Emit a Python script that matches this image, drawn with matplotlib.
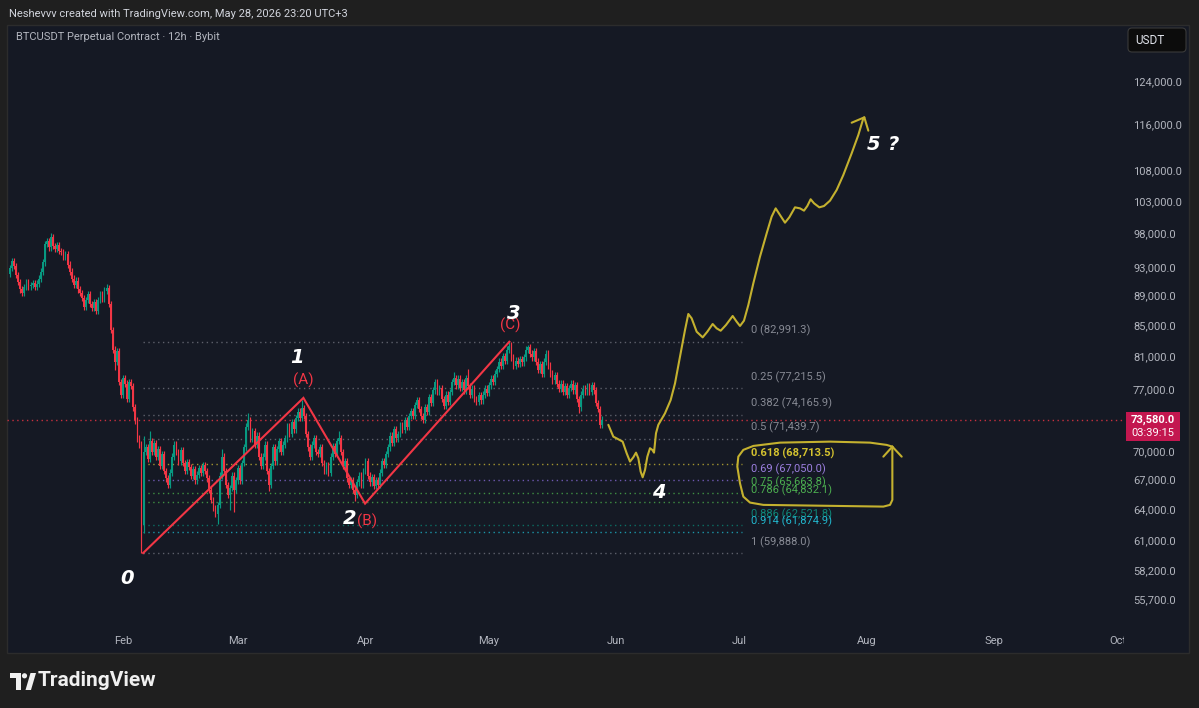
import numpy as np
import matplotlib
matplotlib.use("Agg")
import matplotlib.pyplot as plt
from matplotlib.patches import Rectangle, FancyBboxPatch, Circle, Polygon
import matplotlib.transforms as mtransforms

W, H, DPI = 1199, 708, 100

# ------------------------------------------------------------------ data
first_day = 3.5          # day-of-year 2026 of first 12h candle
candle_step = 0.5        # 12h
first_open_k = 92.2
closes_k = [
    93.0, 94.0, 93.3, 92.0, 91.0, 90.0, 89.5, 90.3, 91.0, 90.4, 90.6, 90.9, 90.3, 90.8, 91.5,
    92.5, 93.8, 96.5, 97.0, 96.0, 97.5, 96.2, 95.8, 96.3, 95.5,
    95.3, 94.7, 95.0, 93.5, 92.5, 91.5, 90.6, 91.2, 90.0, 89.5,
    88.8, 87.6, 88.5, 89.3, 88.0, 87.5, 88.2, 87.0, 88.5, 89.3, 88.7, 89.8, 90.2, 88.0,
    84.5, 82.0, 80.5, 81.8, 78.0, 76.5, 78.5, 77.8, 76.0, 78.0, 77.5, 75.0, 73.5, 71.5, 70.8,
    62.5, 70.0,
    70.5, 69.3, 71.2, 70.0, 71.0, 69.5, 70.3, 68.5, 69.8, 68.0, 67.2, 66.5, 67.8, 69.5, 70.8, 70.0, 69.0, 70.2, 68.8, 68.0, 68.9,
    68.4, 67.5, 68.2, 67.0, 67.6, 68.3, 67.8, 68.6, 68.0, 67.2, 66.0, 65.0, 64.2, 63.6, 64.5,
    67.5, 69.5, 68.0, 66.5, 65.5, 66.2, 67.5, 66.0, 67.0, 68.3, 67.0, 68.8, 70.5, 72.8, 73.5, 71.5, 72.3, 70.8, 71.8, 69.5, 68.5,
    69.5, 70.8, 68.0, 66.5, 68.5, 70.5, 69.0, 70.3, 71.2, 70.0, 70.8, 71.5, 72.8, 72.0, 73.3, 72.5, 73.8, 74.5, 73.8, 74.9, 74.0,
    72.0, 70.5, 69.5, 70.8, 71.5, 70.0, 69.8, 70.5, 68.8, 68.0, 68.6, 67.8, 69.5, 70.6, 69.8, 71.2, 71.5, 70.0, 68.5, 69.0,
    67.2, 66.5, 67.0, 66.0, 65.5, 66.8, 67.5, 66.5, 68.0, 69.0,
    67.5, 66.8, 67.3, 66.4, 67.0, 66.5, 67.8, 69.0, 68.6, 69.8, 70.5, 71.8, 71.0, 72.5, 71.5, 72.0, 73.0, 72.4, 73.5, 72.8,
    74.0, 74.6, 74.0, 75.3, 75.8, 74.8,
    74.0, 73.6, 75.0, 74.5, 76.2, 75.5, 77.0, 78.0, 76.8, 77.3, 76.0, 75.2, 76.5, 75.6, 76.8, 78.0, 78.5, 77.6, 78.4, 77.3,
    78.0, 77.0, 78.5, 77.5, 76.5, 77.2, 76.0, 75.6, 76.4, 75.8, 76.5, 77.2, 76.7, 77.6, 78.4, 78.0, 79.0, 79.6, 80.5, 80.0,
    81.2, 80.6, 82.0, 82.5,
    81.0, 80.0, 80.6, 80.2, 80.8, 80.4, 81.0, 82.0, 82.3, 81.5, 81.0, 81.8, 80.5, 79.5, 80.2, 79.0, 80.5, 81.5, 80.0, 79.0,
    78.2, 78.8, 77.8, 77.2, 77.8, 76.8, 77.5, 76.5, 77.3, 77.8, 77.0, 77.6, 76.0, 75.0, 76.5, 77.2, 76.8, 77.5, 76.8, 77.6,
    77.0, 75.5, 74.8, 73.0, 73.58,
]
high_override_k = {20: 98.2, 47: 90.8, 65: 71.8, 68: 72.3, 103: 70.3, 116: 74.3, 142: 75.9,
                   160: 72.3, 207: 78.4, 216: 79.2, 223: 79.6, 243: 82.99, 252: 82.6, 261: 82.0}
low_override_k = {51: 79.5, 64: 59.888, 65: 61.8, 101: 62.6, 107: 64.0, 109: 63.8,
                  126: 65.9, 168: 64.9, 277: 74.3}
wick_pad = 0.005

last_price = 73580.0
last_price_text = "73,580.0"
countdown_text = "03:39:15"

month_names = ["Feb", "Mar", "Apr", "May", "Jun", "Jul", "Aug", "Sep", "Oct"]
month_days = [31, 59, 90, 120, 151, 181, 212, 243, 273]

price_ticks = [124000, 116000, 108000, 103000, 98000, 93000, 89000, 85000, 81000,
               77000, 70000, 67000, 64000, 61000, 58200, 55700]

fib_names = ["0", "0.25", "0.382", "0.5", "0.618", "0.69", "0.75", "0.786", "0.886", "0.914", "1"]
fib_prices = [82991.3, 77215.5, 74165.9, 71439.7, 68713.5, 67050.0, 65663.8, 64832.1,
              62521.8, 61874.9, 59888.0]
fib_start_day, fib_end_day, fib_label_day = 35.9, 181.6, 183.8

wave_days = [35.9, 74.9, 89.9, 125.0]
wave_prices = [59888.0, 76100.0, 64640.0, 82991.3]

wave_numbers = [("0", 32.0, 57620), ("1", 73.3, 80960), ("2", 86.2, 63160),
                ("3", 126.1, 86630), ("4", 161.4, 65750), ("5", 213.6, 112620), ("?", 218.6, 112620)]
wave_letters = [("(A)", 74.8, 78140), ("(B)", 90.4, 62870), ("(C)", 125.2, 85170)]

proj_days = [149.09, 150.30, 151.52, 152.57, 153.55, 154.36, 155.17, 155.82, 156.39, 156.95, 157.44,
             158.01, 158.58, 159.22, 159.79, 160.20, 160.68, 161.25, 162.87, 164.25, 165.31, 166.52,
             167.74, 168.55, 169.36, 170.58, 172.04, 173.17, 174.47, 175.44, 176.42, 177.71, 179.34,
             180.31, 181.12, 182.09, 183.15, 184.36, 185.98, 187.61, 188.82, 189.80, 190.85, 192.07,
             193.12, 194.50, 195.72, 196.69, 197.50, 198.31, 199.13, 200.42, 201.56, 203.02, 204.64,
             206.26, 208.29, 209.91, 211.13, 211.37]
proj_prices_k = [73.0, 71.68, 71.39, 71.13, 69.86, 68.97, 69.43, 69.93, 69.32, 67.91, 67.32,
                 68.09, 69.50, 70.41, 70.23, 69.93, 72.05, 73.0, 74.31, 75.85, 77.83, 81.10,
                 84.51, 86.63, 86.05, 84.29, 83.56, 84.29, 85.30, 84.73, 84.42, 85.17, 86.36,
                 85.60, 85.04, 85.74, 87.84, 90.82, 94.64, 98.12, 100.68, 101.98, 100.94, 99.75,
                 100.58, 102.14, 101.98, 101.62, 102.35, 103.42, 102.78, 102.14, 102.35, 103.20, 104.92,
                 107.37, 111.03, 114.21, 117.19, 117.37]
proj_head_days = [208.29, 211.37, 212.34]
proj_head_k = [116.40, 117.37, 114.98]

loop_days = [218.19, 216.81, 212.75, 203.02, 190.85, 184.37, 181.93, 180.71, 180.47, 181.12,
             181.93, 183.56, 186.80, 216.00, 217.62, 218.19, 218.19]
loop_k = [70.58, 70.77, 71.02, 71.13, 71.02, 70.66, 70.23, 69.50, 68.44, 66.70,
          65.34, 64.74, 64.51, 64.34, 64.51, 65.01, 70.58]
loop_head_days = [216.00, 218.19, 220.46]
loop_head_k = [69.50, 70.58, 69.50]

# ------------------------------------------------------------------ style
FRAME = "#1f1f1f"
PANEL = "#151924"
TXT = "#b2b5be"
UP, DN = "#089981", "#f23645"
YEL = "#c4b12f"
SMALL = ["Roboto", "DejaVu Sans"]

fib_line_cols = ["#5d606b", "#5d606b", "#5d606b", "#5d606b", "#a39530", "#6e58b0", "#3f8f43",
                 "#3f8f43", "#0c6e63", "#1b95a8", "#5d606b"]
fib_text_cols = ["#878a94", "#878a94", "#878a94", "#878a94", "#d4c22f", "#9c7fe0", "#4caf50",
                 "#4caf50", "#0e8577", "#22b8cf", "#878a94"]

fig = plt.figure(figsize=(W / DPI, H / DPI), dpi=DPI, facecolor=FRAME)


def fx(x):
    return x / W


def fy(y):
    return 1 - y / H


# chart panel
fig.add_artist(Rectangle((fx(7), fy(653)), fx(1189) - fx(7), fy(25) - fy(653),
                         transform=fig.transFigure, facecolor=PANEL, edgecolor="#2c2c2c",
                         lw=1, zorder=0))

ax = fig.add_axes([fx(7), fy(653), fx(1124) - fx(7), fy(25) - fy(653)])
ax.set_facecolor("none")
ax.set_yscale("log")
ax.set_xlim(2.78, 274.55)
ax.set_ylim(51320, 135360)
for s in ax.spines.values():
    s.set_visible(False)
ax.set_xticks([])
ax.set_yticks([])
ax.yaxis.set_minor_locator(matplotlib.ticker.NullLocator())

# candles
closes = np.array(closes_k) * 1000
opens = np.concatenate([[first_open_k * 1000], closes[:-1]])
days = first_day + candle_step * np.arange(len(closes))
highs = np.maximum(opens, closes) * (1 + wick_pad)
lows = np.minimum(opens, closes) * (1 - wick_pad)
for i, v in high_override_k.items():
    highs[i] = v * 1000
for i, v in low_override_k.items():
    lows[i] = v * 1000
cols = np.where(closes >= opens, UP, DN)
ax.vlines(days, lows, highs, colors=cols, lw=0.85, zorder=4)
bottoms = np.minimum(opens, closes)
heights = np.maximum(np.abs(closes - opens), 60)
ax.bar(days, heights, bottom=bottoms, width=0.42, color=cols, lw=0, zorder=5)

# current price line
ax.axhline(last_price, color="#c8303f", lw=1.0, ls=(0, (1, 2.5)), zorder=3)

# fib levels
for name, p, lc, tc in zip(fib_names, fib_prices, fib_line_cols, fib_text_cols):
    ax.plot([fib_start_day, fib_end_day], [p, p], color=lc, lw=1.0, ls=(0, (1, 2.5)), zorder=2)
    ax.annotate(f"{name} ({p:,.1f})", xy=(fib_label_day, p), xytext=(0, 8),
                textcoords="offset points", ha="left", va="center", fontsize=8,
                color=tc, family=SMALL, fontweight="bold" if name == "0.618" else "normal",
                zorder=6)

# wave zigzag
ax.plot(wave_days, wave_prices, color="#f23645", lw=1.5, zorder=7, solid_joinstyle="miter")

# projection drawings
for xs, ys in [(proj_days, proj_prices_k), (proj_head_days, proj_head_k),
               (loop_days, loop_k), (loop_head_days, loop_head_k)]:
    ax.plot(xs, np.array(ys) * 1000, color=YEL, lw=1.5, zorder=7,
            solid_joinstyle="round", solid_capstyle="round")

# labels
for t, d, p in wave_numbers:
    ax.text(d, p, t, color="white", fontsize=14, fontweight="bold", style="italic",
            family="DejaVu Sans", ha="center", va="center", zorder=9)
for t, d, p in wave_letters:
    ax.text(d, p, t, color="#f23645", fontsize=11, family=SMALL, ha="center",
            va="center", zorder=8)

# month labels
bt = mtransforms.blended_transform_factory(ax.transData, ax.transAxes)
for m, d in zip(month_names, month_days):
    ax.text(d, 12 / 628, m, transform=bt, ha="center", va="center", fontsize=8,
            color=TXT, family=SMALL, clip_on=True)

# price scale
pt = mtransforms.blended_transform_factory(fig.transFigure, ax.transData)
for p in price_ticks:
    fig.text(fx(1133), p, f"{p:,.1f}", transform=pt, ha="left", va="center",
             fontsize=8, color=TXT, family=SMALL)

# last price box
y_disp = ax.transData.transform((10, last_price))[1]
ypix = H - y_disp
fig.add_artist(Rectangle((fx(1126), fy(ypix + 21)), fx(54), (29) / H,
                         transform=fig.transFigure, facecolor="#c3174f", edgecolor="none",
                         zorder=10))
fig.text(fx(1153), fy(ypix), last_price_text, ha="center", va="center", fontsize=8,
         fontweight="bold", color="white", family=SMALL, zorder=11)
fig.text(fx(1153), fy(ypix + 13), countdown_text, ha="center", va="center", fontsize=8,
         color="white", family=SMALL, zorder=11)

# USDT box
fig.add_artist(FancyBboxPatch((1128, H - 52), 58, 24,
                              boxstyle="round,pad=0,rounding_size=4",
                              transform=mtransforms.IdentityTransform(),
                              facecolor="#0c0c0c", edgecolor="#3a3a3a", lw=0.8, zorder=10))
fig.text(fx(1135), fy(40), "USDT", ha="left", va="center", fontsize=8.5,
         color="#e0e3eb", family=SMALL, zorder=11)

# header texts
fig.text(fx(9), fy(14), "Neshevvv created with TradingView.com, May 28, 2026 23:20 UTC+3",
         ha="left", va="center", fontsize=8, color="#d1d4dc", family=SMALL)
fig.text(fx(16), fy(37.5), "BTCUSDT Perpetual Contract · 12h · Bybit",
         ha="left", va="center", fontsize=8, color=TXT, family=SMALL)

# TradingView logo
logo_col = "#f0f0f0"
fig.add_artist(Rectangle((fx(10), fy(678)), fx(11), 5 / H, transform=fig.transFigure,
                         facecolor=logo_col, edgecolor="none"))
fig.add_artist(Rectangle((fx(15.5), fy(690)), fx(5.5), 17 / H, transform=fig.transFigure,
                         facecolor=logo_col, edgecolor="none"))
fig.add_artist(Circle((24.5, H - 675.8), 2.6, transform=mtransforms.IdentityTransform(),
                      facecolor=logo_col, edgecolor="none"))
fig.add_artist(Polygon([(fx(25.5), fy(690)), (fx(31), fy(690)), (fx(36), fy(673)), (fx(30.5), fy(673))],
                       closed=True, transform=fig.transFigure, facecolor=logo_col, edgecolor="none"))
fig.text(fx(38), fy(681), "TradingView", ha="left", va="center", fontsize=15,
         fontweight="bold", color=logo_col, family=SMALL)

fig.savefig("out.png", dpi=DPI, facecolor=FRAME)
